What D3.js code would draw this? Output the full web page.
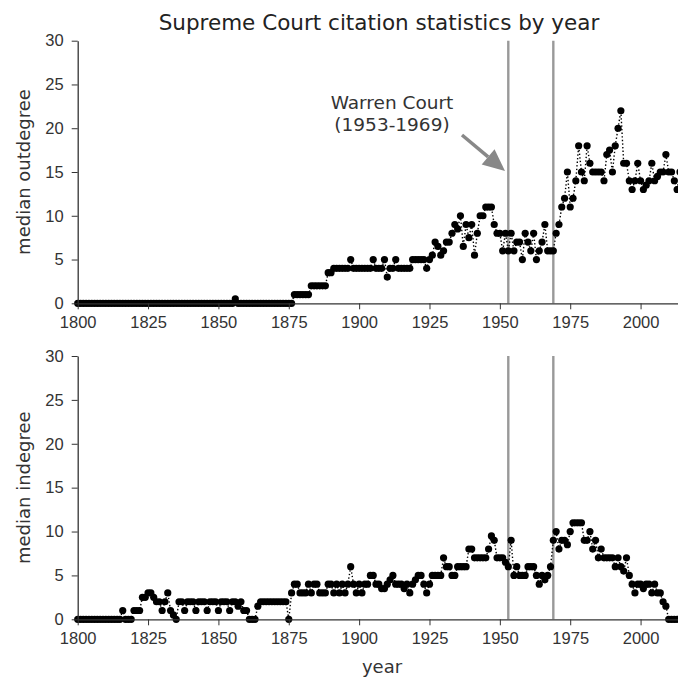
<!DOCTYPE html>
<html>
<head>
<meta charset="utf-8">
<script src="https://cdn.jsdelivr.net/npm/d3@7"></script>
<style>
  body { margin: 0; background: #fff; }
  svg { display: block; font-family: "DejaVu Sans", sans-serif; }
  .axis text { font-size: 16.5px; fill: #333; }
  .axis path, .axis line { stroke: #333; }
</style>
</head>
<body>
<svg id="chart" width="678" height="677"></svg>
<script>
// years covered by both series
var firstYear = 1800, lastYear = 2015;
var years = d3.range(firstYear, lastYear + 1);

// median outdegree, one row per decade (1800s ... 2010s)
var outdegree = [
  0, 0, 0, 0, 0, 0, 0, 0, 0, 0,
  0, 0, 0, 0, 0, 0, 0, 0, 0, 0,
  0, 0, 0, 0, 0, 0, 0, 0, 0, 0,
  0, 0, 0, 0, 0, 0, 0, 0, 0, 0,
  0, 0, 0, 0, 0, 0, 0, 0, 0, 0,
  0, 0, 0, 0, 0, 0, 0.5, 0, 0, 0,
  0, 0, 0, 0, 0, 0, 0, 0, 0, 0,
  0, 0, 0, 0, 0, 0, 0, 1, 1, 1,
  1, 1, 1, 2, 2, 2, 2, 2, 2, 3.5,
  3.5, 4, 4, 4, 4, 4, 4, 5, 4, 4,
  4, 4, 4, 4, 4, 5, 4, 4, 4, 5,
  3, 4, 4, 5, 4, 4, 4, 4, 4, 5,
  5, 5, 5, 5, 4, 5, 5.5, 7, 6.5, 5.5,
  6, 7, 7, 8, 9, 8.5, 10, 6.5, 9, 7.5,
  9, 5.5, 8, 10, 10, 11, 11, 11, 9, 8,
  8, 6, 8, 6, 8, 6, 7, 7, 5, 8,
  7, 6, 8, 5, 6, 7, 9, 6, 6, 6,
  8, 9, 11, 12, 15, 11, 12, 14, 18, 15,
  14, 18, 16, 15, 15, 15, 15, 14, 17, 17.5,
  15, 18, 20, 22, 16, 16, 14, 13, 14, 16,
  14, 13, 13.5, 14, 16, 14, 14.5, 15, 15, 17,
  15, 15, 14, 13, 15, 15
];

// median indegree, one row per decade (1800s ... 2010s)
var indegree = [
  0, 0, 0, 0, 0, 0, 0, 0, 0, 0,
  0, 0, 0, 0, 0, 0, 1, 0, 0, 0,
  1, 1, 1, 2.5, 2.5, 3, 3, 2.5, 2, 2,
  1, 2, 3, 1, 0.5, 0, 2, 2, 1, 2,
  2, 2, 1, 2, 2, 2, 1, 2, 2, 2,
  1, 2, 2, 2, 1, 2, 2, 1.5, 2, 1,
  1, 0, 0, 0, 1.5, 2, 2, 2, 2, 2,
  2, 2, 2, 2, 2, 0, 3, 4, 4, 3,
  3, 3, 4, 3, 4, 4, 3, 3, 3, 4,
  4, 3, 4, 3, 4, 3, 4, 6, 4, 3,
  4, 3, 4, 4, 5, 5, 4, 4, 3.5, 3.5,
  4, 4.5, 5, 4, 4, 4, 3.5, 4, 3, 4,
  4.5, 5, 5, 4, 3, 4, 5, 5, 5, 5,
  7, 6, 6, 5, 5, 6, 6, 6, 6, 8,
  8, 7, 7, 7, 7, 7, 8, 9.5, 9, 7,
  7, 7, 6.5, 6, 9, 5, 6, 5, 5, 5,
  6, 6, 6, 5, 4, 5, 4.5, 5, 6, 9,
  10, 8, 9, 9, 8.5, 10, 11, 11, 11, 11,
  9, 9, 10, 8, 9, 7, 8, 7, 7, 7,
  7, 6, 7, 6, 5.5, 7, 5, 4, 3, 4,
  4, 3.5, 4, 4, 3, 4, 3, 3, 2, 1.5,
  0, 0, 0, 0, 0, 0
];

// Warren Court boundaries
var courtYears = [1953, 1969];
var yTicks = [0, 5, 10, 15, 20, 25, 30];
var xTicks = [1800, 1825, 1850, 1875, 1900, 1925, 1950, 1975, 2000];

var svg = d3.select("#chart");
var left = 77.7, right = 678;

var x = d3.scaleLinear().domain([1800, 2013.3]).range([left, right]);

var panels = [
  { values: outdegree, label: "median outdegree", top: 40.7, bottom: 303.3 },
  { values: indegree, label: "median indegree", top: 356, bottom: 619.3 }
];

svg.append("text")
   .attr("x", 379).attr("y", 30)
   .attr("text-anchor", "middle")
   .style("font-size", "21.5px").style("fill", "#222")
   .text("Supreme Court citation statistics by year");

panels.forEach(function(p, i) {
    var y = d3.scaleLinear().domain([0, 30]).range([p.bottom, p.top]);
    var g = svg.append("g");

    svg.append("clipPath").attr("id", "clip" + i)
       .append("rect").attr("x", left - 5).attr("y", p.top - 5)
       .attr("width", right - left + 10).attr("height", p.bottom - p.top + 10);

    // Warren Court lines
    g.selectAll("line.court").data(courtYears).enter()
     .append("line").attr("class", "court")
     .attr("x1", function(d) { return x(d); }).attr("x2", function(d) { return x(d); })
     .attr("y1", p.top).attr("y2", p.bottom)
     .style("stroke", "#999").style("stroke-width", 2.4);

    var pts = years.map(function(yr, k) { return [yr, p.values[k]]; });

    var plot = g.append("g").attr("clip-path", "url(#clip" + i + ")");

    plot.append("path")
        .datum(pts)
        .attr("d", d3.line().x(function(d) { return x(d[0]); }).y(function(d) { return y(d[1]); }))
        .style("fill", "none").style("stroke", "#000")
        .style("stroke-width", 1.4).style("stroke-dasharray", "1.4,2.2");

    plot.selectAll("circle").data(pts).enter()
        .append("circle")
        .attr("cx", function(d) { return x(d[0]); })
        .attr("cy", function(d) { return y(d[1]); })
        .attr("r", 3.6)
        .style("fill", "#000");

    // Axis Y
    g.append("g").attr("class", "axis")
     .attr("transform", "translate(" + left + ",0)")
     .call(d3.axisLeft(y).tickValues(yTicks).tickSize(6).tickPadding(8).tickSizeOuter(0));

    // Axis X
    g.append("g").attr("class", "axis")
     .attr("transform", "translate(0," + p.bottom + ")")
     .call(d3.axisBottom(x).tickValues(xTicks).tickFormat(d3.format("d")).tickSize(6).tickPadding(7).tickSizeOuter(0));

    g.selectAll(".axis path.domain").style("stroke-width", 1.3);

    svg.append("text")
       .attr("transform", "translate(30," + ((p.top + p.bottom) / 2) + ") rotate(-90)")
       .attr("text-anchor", "middle")
       .style("font-size", "18px").style("fill", "#333")
       .text(p.label);
});

svg.append("text")
   .attr("x", 382).attr("y", 673)
   .attr("text-anchor", "middle")
   .style("font-size", "18px").style("fill", "#333")
   .text("year");

// annotation with arrow
var ann = svg.append("g");
ann.append("text").attr("x", 392).attr("y", 109).attr("text-anchor", "middle")
   .style("font-size", "18.5px").style("fill", "#333").text("Warren Court");
ann.append("text").attr("x", 392).attr("y", 131).attr("text-anchor", "middle")
   .style("font-size", "18.5px").style("fill", "#333").text("(1953-1969)");

// arrow from the label to the first Warren Court line
var tail = [462, 135], tip = [505, 171];
var dx = tip[0] - tail[0], dy = tip[1] - tail[1], len = Math.sqrt(dx * dx + dy * dy);
var ux = dx / len, uy = dy / len, headLen = 22, headHalf = 10;
var base = [tip[0] - ux * headLen, tip[1] - uy * headLen];

ann.append("line")
   .attr("x1", tail[0]).attr("y1", tail[1]).attr("x2", base[0]).attr("y2", base[1])
   .style("stroke", "#888").style("stroke-width", 3.5);

ann.append("path")
   .attr("d", "M" + tip[0] + "," + tip[1] +
              "L" + (base[0] - uy * headHalf) + "," + (base[1] + ux * headHalf) +
              "L" + (base[0] + uy * headHalf) + "," + (base[1] - ux * headHalf) + "Z")
   .style("fill", "#888");
</script>
</body>
</html>
